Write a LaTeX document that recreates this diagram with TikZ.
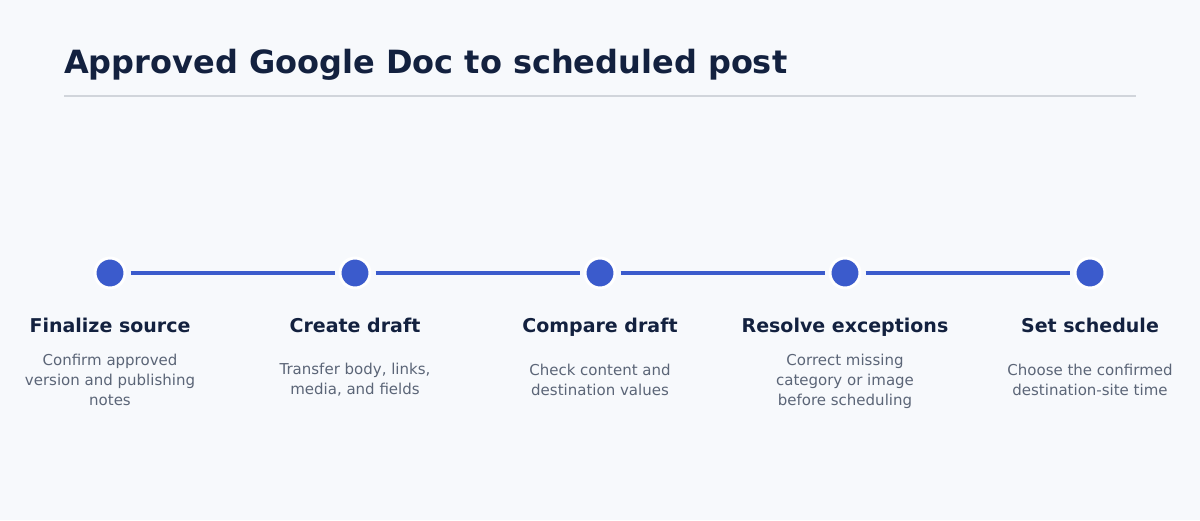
\documentclass[tikz,border=0pt]{standalone}
\usepackage{fontspec}
\setmainfont{DejaVu Sans}
\definecolor{bg}{HTML}{F7F9FC}
\definecolor{titlec}{HTML}{13213F}
\definecolor{descc}{HTML}{5B6577}
\definecolor{accent}{HTML}{3B5BCC}
\definecolor{rulec}{HTML}{D1D5DB}
\tikzset{
  dot/.style={circle, fill=accent, draw=white, line width=3pt, minimum size=30pt, inner sep=0pt},
  steptitle/.style={font=\bfseries\fontsize{19}{23}\selectfont, text=titlec, anchor=base, inner sep=0pt},
  stepdesc/.style={font=\fontsize{15}{20}\selectfont, text=descc, align=center, anchor=center},
  link/.style={draw=accent, line width=4pt, shorten <=4pt, shorten >=4pt}
}
\begin{document}
\begin{tikzpicture}[x=1pt,y=-1pt]
\fill[bg] (0,0) rectangle (1200,520);
\useasboundingbox (0,0) rectangle (1200,520);
\node[anchor=base west, inner sep=0pt, font=\bfseries\fontsize{32}{38}\selectfont, text=titlec] (title) at (64,73) {Approved Google Doc to scheduled post};
\coordinate (rl) at (64,96);
\coordinate (rr) at (1136,96);
\draw[rulec, line width=1.5pt] (rl) -- (rr);
\foreach \i/\x in {1/110,2/355,3/600,4/845,5/1090} {
  \node[dot] (d\i) at (\x,273) {};
}
\foreach \a/\b in {1/2,2/3,3/4,4/5} {
  \draw[link] (d\a) -- (d\b);
}
\node[steptitle] (t1) at (110,332) {Finalize source};
\node[steptitle] (t2) at (355,332) {Create draft};
\node[steptitle] (t3) at (600,332) {Compare draft};
\node[steptitle] (t4) at (845,332) {Resolve exceptions};
\node[steptitle] (t5) at (1090,332) {Set schedule};
\node[stepdesc] (s1) at (110,380) {Confirm approved\\version and publishing\\notes};
\node[stepdesc] (s2) at (355,380) {Transfer body, links,\\media, and fields};
\node[stepdesc] (s3) at (600,380) {Check content and\\destination values};
\node[stepdesc] (s4) at (845,381) {Correct missing\\category or image\\before scheduling};
\node[stepdesc] (s5) at (1090,380) {Choose the confirmed\\destination-site time};
\end{tikzpicture}
\end{document}
